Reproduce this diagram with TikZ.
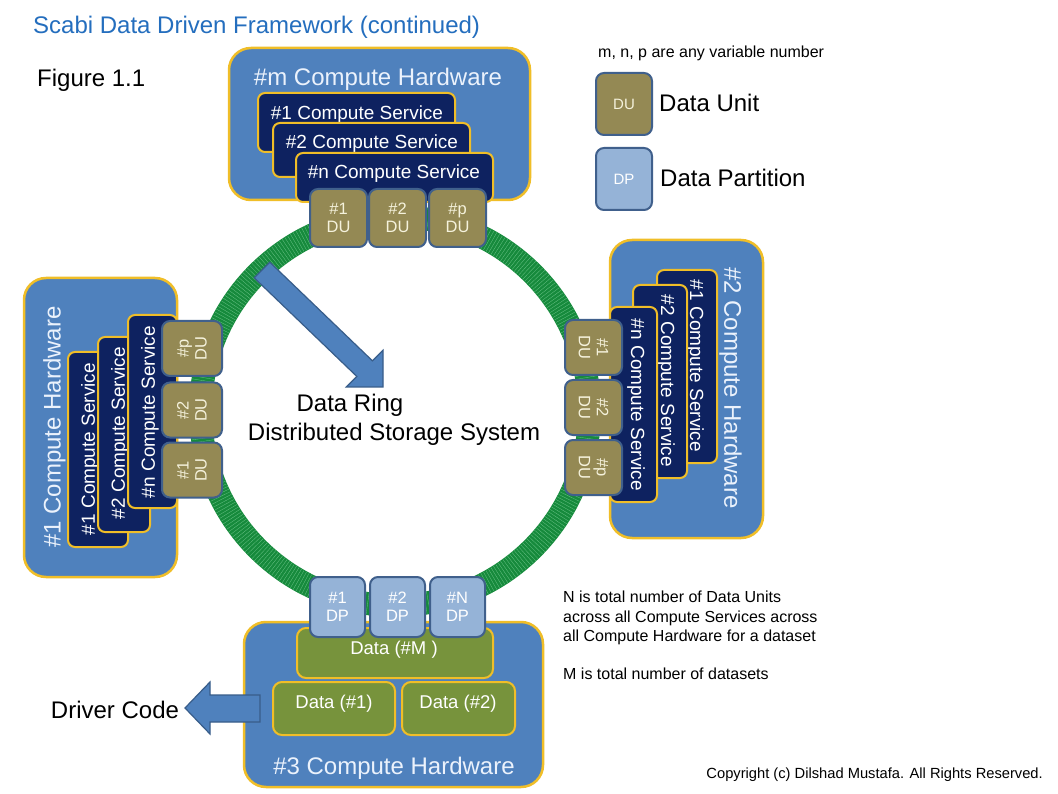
\documentclass[tikz,border=0pt]{standalone}
\usepackage{fontspec}
\setmainfont{Liberation Sans}
\usetikzlibrary{fit}
\definecolor{hwblue}{RGB}{79,129,189}
\definecolor{gold}{RGB}{240,190,40}
\definecolor{navy}{RGB}{14,34,96}
\definecolor{khaki}{RGB}{148,137,84}
\definecolor{duedge}{RGB}{64,96,140}
\definecolor{dpblue}{RGB}{149,179,215}
\definecolor{datagreen}{RGB}{119,147,60}
\definecolor{ringgreen}{RGB}{22,138,60}
\definecolor{ringline}{RGB}{105,195,135}
\definecolor{titleblue}{RGB}{36,110,190}
\definecolor{arrowedge}{RGB}{56,93,138}
\definecolor{cream}{RGB}{245,242,220}
\definecolor{hwtext}{RGB}{235,242,252}
\begin{document}
\begin{tikzpicture}[x=1pt,y=-1pt,
  hw/.style={draw=gold, line width=2.5pt, fill=hwblue, rounded corners=22pt, inner sep=0pt},
  svc/.style={draw=gold, line width=2pt, fill=navy, rounded corners=7pt, inner sep=0pt},
  databox/.style={draw=gold, line width=2pt, fill=datagreen, rounded corners=9pt, inner sep=0pt},
  du/.style={draw=duedge, line width=2pt, fill=khaki, rounded corners=8pt, inner sep=0pt,
    text=cream, align=center, font=\fontsize{16.5}{18}\selectfont},
  dp/.style={du, fill=dpblue, text=white},
  t24/.style={inner sep=0pt, font=\fontsize{24}{28}\selectfont, text height=17.2pt, text depth=0pt},
  t19/.style={inner sep=0pt, font=\fontsize{19}{22}\selectfont, text height=13.6pt, text depth=0pt, text=white},
  t18/.style={inner sep=0pt, font=\fontsize{18.5}{22}\selectfont, text height=13.2pt, text depth=0pt, text=white},
  t16/.style={inner sep=0pt, font=\fontsize{16}{19}\selectfont, text height=11.5pt, text depth=0pt},
  hwt/.style={t24, text=hwtext},
  bigarrow/.style={fill=hwblue, draw=arrowedge, line width=1.2pt, line join=miter}
]
\useasboundingbox (0,0) rectangle (1058,794);
\fill[white] (0,0) rectangle (1058,794);

% ---------- data ring ----------
\coordinate (ringc) at (395,411);
\draw[ringgreen, line width=23pt] (ringc) circle (194.5);
\foreach \a in {0,0.9,...,359.2}
  \draw[ringline, line width=0.3pt] (ringc) ++(\a:183.5) -- ++(\a:22);

% ---------- top block: #m compute hardware ----------
\node[hw, fit={(229,48) (530,200)}] (mhw) {};
\node[hwt] (mhwt) at (378,77) {\#m Compute Hardware};
\node[svc, fit={(258,93) (455,152)}] (ms1) {};
\node[t19] (ms1t) at (357,113) {\#1 Compute Service};
\node[svc, fit={(273,123) (470,177)}] (ms2) {};
\node[t19] (ms2t) at (372,142) {\#2 Compute Service};
\node[svc, fit={(296,153) (493,202)}] (msn) {};
\node[t19] (msnt) at (394,172) {\#n Compute Service};
\node[du, minimum width=57, minimum height=58] (mdu1) at (338.5,218) {\#1\\DU};
\node[du, minimum width=57, minimum height=58] (mdu2) at (397.5,218) {\#2\\DU};
\node[du, minimum width=57, minimum height=58] (mdup) at (457.5,218) {\#p\\DU};

% ---------- right block: #2 compute hardware ----------
\node[hw, fit={(610,240) (763,538)}] (rhw) {};
\node[hwt, rotate=-90] (rhwt) at (733,388) {\#2 Compute Hardware};
\node[svc, fit={(657,270) (717,463)}] (rs1) {};
\node[t19, rotate=-90] (rs1t) at (697,366) {\#1 Compute Service};
\node[svc, fit={(633,285) (687,478)}] (rs2) {};
\node[t19, rotate=-90] (rs2t) at (668,381) {\#2 Compute Service};
\node[svc, fit={(610,307) (657,502)}] (rsn) {};
\node[t19, rotate=-90] (rsnt) at (638,405) {\#n Compute Service};
\node[du, rotate=-90, minimum width=55, minimum height=57] (rdu1) at (593.5,347.5) {\#1\\DU};
\node[du, rotate=-90, minimum width=55, minimum height=57] (rdu2) at (593.5,407.5) {\#2\\DU};
\node[du, rotate=-90, minimum width=55, minimum height=57] (rdup) at (593.5,467.5) {\#p\\DU};

% ---------- left block: #1 compute hardware ----------
\node[hw, fit={(24,278) (177,577)}] (lhw) {};
\node[hwt, rotate=90] (lhwt) at (52,427) {\#1 Compute Hardware};
\node[svc, fit={(68,352) (128,547)}] (ls1) {};
\node[t19, rotate=90] (ls1t) at (88,449) {\#1 Compute Service};
\node[svc, fit={(98,337) (150,532)}] (ls2) {};
\node[t19, rotate=90] (ls2t) at (118,433) {\#2 Compute Service};
\node[svc, fit={(128,315) (177,508)}] (lsn) {};
\node[t19, rotate=90] (lsnt) at (148,412) {\#n Compute Service};
\node[du, rotate=90, minimum width=55, minimum height=60] (ldup) at (192,348.5) {\#p\\DU};
\node[du, rotate=90, minimum width=55, minimum height=60] (ldu2) at (192,410) {\#2\\DU};
\node[du, rotate=90, minimum width=55, minimum height=60] (ldu1) at (192,470) {\#1\\DU};

% ---------- bottom block: #3 compute hardware ----------
\node[hw, fit={(244,622) (543,787)}] (bhw) {};
\node[hwt] (bhwt) at (394,766) {\#3 Compute Hardware};
\node[databox, fit={(297,628) (493,678)}] (dm) {};
\node[t18] (dmt) at (394,648) {Data (\#M )};
\node[databox, fit={(273,682) (395,735)}] (d1) {};
\node[t18] (d1t) at (334,702) {Data (\#1)};
\node[databox, fit={(402,682) (515,735)}] (d2) {};
\node[t18] (d2t) at (458,702) {Data (\#2)};
\node[dp, minimum width=55, minimum height=60] (dp1) at (337.5,607) {\#1\\DP};
\node[dp, minimum width=55, minimum height=60] (dp2) at (397.5,607) {\#2\\DP};
\node[dp, minimum width=55, minimum height=60] (dpn) at (457.5,607) {\#N\\DP};

% ---------- arrows ----------
\draw[bigarrow] (269.8,262.2) -- (372.4,360.8) -- (383,350.2) -- (383,387)
  -- (346.2,387) -- (356.8,376.4) -- (254.2,277.8) -- cycle;
\draw[bigarrow] (260,695) -- (210,695) -- (210,682) -- (185,708) -- (210,734)
  -- (210,722) -- (260,722) -- cycle;

% ---------- texts ----------
\node[t24, anchor=west, text=titleblue] (title) at (33,25) {Scabi Data Driven Framework (continued)};
\node[t24, anchor=west] (fig) at (37,78) {Figure 1.1};
\node[t24] (ring1) at (350,403) {Data Ring};
\node[t24] (ring2) at (394,432) {Distributed Storage System};
\node[t24] (driver) at (115,710) {Driver Code};

% legend
\node[t16, anchor=west] (vars) at (598,52) {m, n, p are any variable number};
\node[du, minimum width=56, minimum height=62, font=\fontsize{15}{18}\selectfont] (legdu) at (624,104) {DU};
\node[t24, anchor=west] (legdut) at (659,103) {Data Unit};
\node[dp, minimum width=56, minimum height=62, font=\fontsize{15}{18}\selectfont] (legdp) at (624,179) {DP};
\node[t24, anchor=west] (legdpt) at (660,178) {Data Partition};

% notes
\node[t16, anchor=west] (n1) at (563,597) {N is total number of Data Units};
\node[t16, anchor=west] (n2) at (563,617) {across all Compute Services across};
\node[t16, anchor=west] (n3) at (563,636) {all Compute Hardware for a dataset};
\node[t16, anchor=west] (n4) at (563,674) {M is total number of datasets};
\node[inner sep=0pt, anchor=east, font=\fontsize{14.7}{17}\selectfont, text height=10.5pt, text depth=0pt] (copy) at (1043,773) {Copyright (c) Dilshad Mustafa. All Rights Reserved.};
\end{tikzpicture}
\end{document}
